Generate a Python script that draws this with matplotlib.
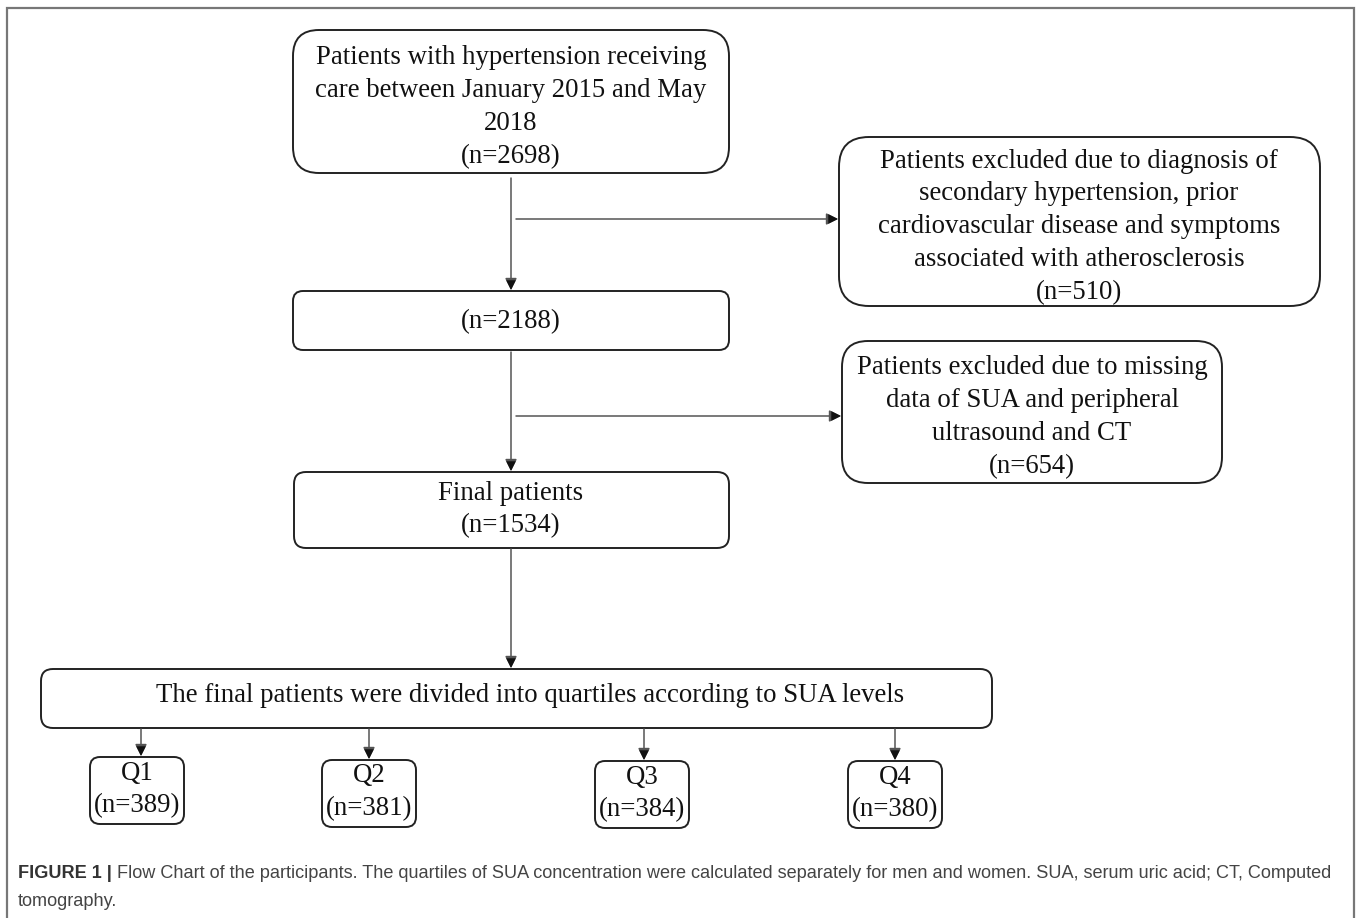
import matplotlib
matplotlib.use("Agg")
from matplotlib import pyplot as plt
from matplotlib.patches import FancyBboxPatch, FancyArrowPatch

plt.rcParams['font.family'] = ['Liberation Serif', 'DejaVu Serif']

# box texts (one entry per line)
top_lines = ['Patients with hypertension receiving', 'care between January 2015 and May', '2018', '(n=2698)']
excl1_lines = ['Patients excluded due to diagnosis of', 'secondary hypertension, prior',
               'cardiovascular disease and symptoms', 'associated with atherosclerosis', '(n=510)']
mid_lines = ['(n=2188)']
excl2_lines = ['Patients excluded due to missing', 'data of SUA and peripheral', 'ultrasound and CT', '(n=654)']
final_lines = ['Final patients', '(n=1534)']
split_lines = ['The final patients were divided into quartiles according to SUA levels']
quartiles = ['Q1', 'Q2', 'Q3', 'Q4']
quartile_n = [389, 381, 384, 380]

caption_bold = 'FIGURE 1 |'
caption_rest = (' Flow Chart of the participants. The quartiles of SUA concentration were calculated '
                'separately for men and women. SUA, serum uric acid; CT, Computed')
caption_line2 = 'tomography.'

W, H = 1357, 918
fig = plt.figure(figsize=(W / 100, H / 100), dpi=100)
ax = fig.add_axes([0, 0, 1, 1])
ax.set_xlim(0, W)
ax.set_ylim(H, 0)
ax.axis('off')

FS = 19.3
LINE = 32.8
HEAD = '-|>,head_length=0.5,head_width=0.25'


def box(x0, y0, x1, y1, r):
    p = FancyBboxPatch((x0, y0), x1 - x0, y1 - y0,
                       boxstyle='round,pad=0,rounding_size=%d' % r,
                       fc='white', ec='#222222', lw=1.4)
    ax.add_patch(p)


def lines(cx, y_first, items, fs=FS):
    for i, s in enumerate(items):
        ax.text(cx, y_first + i * LINE, s, ha='center', va='center', fontsize=fs, color='#111111')


def arrow(x0, y0, x1, y1):
    a = FancyArrowPatch((x0, y0), (x1, y1), arrowstyle=HEAD, mutation_scale=14,
                        color='#555555', lw=1.1, shrinkA=0, shrinkB=0)
    ax.add_patch(a)
    # black head on top
    ax.add_patch(FancyArrowPatch((x1 - (x1 - x0) * 0.001, y1 - (y1 - y0) * 0.001), (x1, y1),
                                 arrowstyle=HEAD, mutation_scale=14, color='#111111', lw=0,
                                 shrinkA=0, shrinkB=0))


# outer frame
ax.plot([7, 7, 1354, 1354], [918, 8, 8, 918], color='#777777', lw=1.6, solid_joinstyle='miter')

# boxes
box(293, 30, 729, 173, 26)
lines(511, 58, top_lines)

box(839, 137, 1320, 306, 30)
lines(1079, 161, excl1_lines)

box(293, 291, 729, 350, 10)
lines(511, 322, mid_lines)

box(842, 341, 1222, 483, 26)
lines(1032, 368, excl2_lines)

box(294, 472, 729, 548, 12)
lines(511, 493, final_lines)

box(41, 669, 992, 728, 12)
lines(530, 696, split_lines)

q_centers = [137, 369, 642, 895]
q_arrow_x = [141, 369, 644, 895]
q_tops = [757, 760, 761, 761]
for cx, ax_x, top, q, n in zip(q_centers, q_arrow_x, q_tops, quartiles, quartile_n):
    box(cx - 47, top, cx + 47, top + 67, 10)
    lines(cx, top + 16, [q, '(n=%d)' % n])
    arrow(ax_x, 729, ax_x, top - 1)

# arrows
arrow(511, 178, 511, 290)
arrow(516, 219, 838, 219)
arrow(511, 352, 511, 471)
arrow(516, 416, 841, 416)
arrow(511, 549, 511, 668)

# caption
fig.canvas.draw()
r = fig.canvas.get_renderer()
t = ax.text(18, 873, caption_bold, ha='left', va='center', fontsize=13.1, fontweight='bold',
            family=['Liberation Sans'], color='#333333')
bb = t.get_window_extent(renderer=r)
x_end = ax.transData.inverted().transform((bb.x1, bb.y0))[0]
ax.text(x_end, 873, caption_rest, ha='left', va='center', fontsize=13.1,
        family=['Liberation Sans'], color='#444444')
ax.text(18, 901, caption_line2, ha='left', va='center', fontsize=13.1,
        family=['Liberation Sans'], color='#444444')

fig.savefig('out.png', dpi=100)
